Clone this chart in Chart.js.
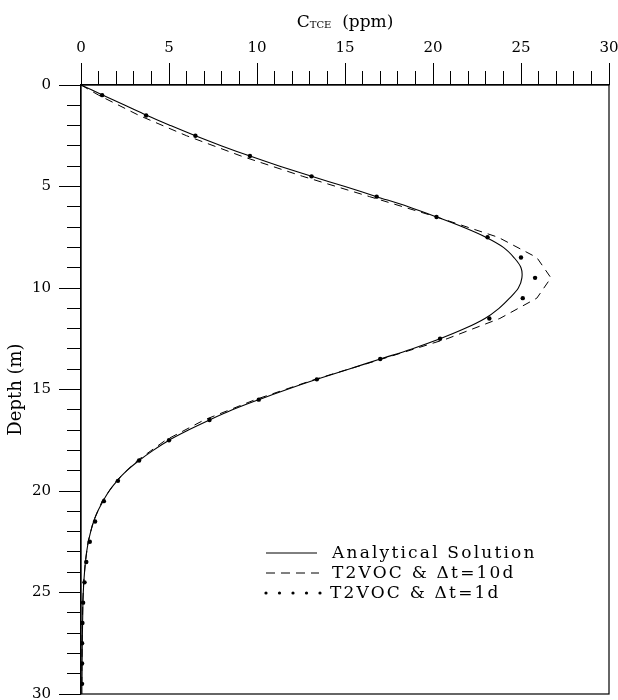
<!DOCTYPE html>
<html><head><meta charset="utf-8">
<script src="https://cdn.jsdelivr.net/npm/chart.js@4.4.1/dist/chart.umd.min.js"></script>
<style>html,body{margin:0;padding:0;background:#fff}#wrap{width:618px;height:700px;position:relative}</style>
</head><body><div id="wrap"><canvas id="c"></canvas></div>
<script>
// ---- data ----
const xTickLabels = [0, 5, 10, 15, 20, 25, 30];
const yTickLabels = [0, 5, 10, 15, 20, 25, 30];
const seriesNames = ['Analytical Solution', 'T2VOC & \u0394t=10d', 'T2VOC & \u0394t=1d'];

const analyticDepth = [0,0.5,1,1.5,2,2.5,3,3.5,4,4.5,5,5.5,6,6.5,7,7.5,8,8.5,9,9.5,10,10.5,11,11.5,12,12.5,13,13.5,14,14.5,15,15.5,16,16.5,17,17.5,18,18.5,19,19.5,20,20.5,21,21.5,22,22.5,23,23.5,24,24.5,25,25.5,26,26.5,27,27.5,28,28.5,29,29.5,30];
const analyticC = [0,1.25,2.5,3.75,5.1,6.5,8.0,9.6,11.3,13.1,15.0,16.8,18.6,20.2,21.7,23.0,24.0,24.6,25.0,25.05,24.85,24.35,23.75,22.95,21.8,20.4,18.8,17.0,15.2,13.4,11.7,10.1,8.6,7.3,6.1,5.0,4.1,3.3,2.6,2.05,1.6,1.25,0.95,0.72,0.55,0.42,0.32,0.25,0.2,0.16,0.13,0.11,0.1,0.09,0.08,0.07,0.07,0.06,0.06,0.05,0.05];

const dt10Depth = [0,0.5,1.5,2.5,3.5,4.5,5.5,6.5,7.5,8.5,9.5,10.5,11.5,12.5,13.5,14.5,15.5,16.5,17.5,18.5,19.5,20.5,21.5,22.5,23.5,24.5,25.5,26.5,27.5,28.5,29.5];
const dt10C = [0,1.0,3.3,6.0,9.1,12.6,16.4,20.2,23.7,25.9,26.7,25.9,23.8,20.8,17.1,13.3,9.9,7.0,4.8,3.2,2.0,1.2,0.7,0.4,0.25,0.15,0.1,0.08,0.06,0.05,0.05];

const dt1Depth = [0.5,1.5,2.5,3.5,4.5,5.5,6.5,7.5,8.5,9.5,10.5,11.5,12.5,13.5,14.5,15.5,16.5,17.5,18.5,19.5,20.5,21.5,22.5,23.5,24.5,25.5,26.5,27.5,28.5,29.5];
const dt1C = [1.2,3.7,6.5,9.6,13.1,16.8,20.2,23.1,25.0,25.8,25.1,23.2,20.4,17.0,13.4,10.1,7.3,5.0,3.3,2.1,1.3,0.8,0.5,0.3,0.2,0.12,0.08,0.06,0.06,0.06];

// ---- helpers ----
const pts = (xs, ys) => xs.map((x, i) => ({x: x, y: ys[i]}));
const FONT = "'DejaVu Serif', 'Liberation Serif', serif";
const minorDash = (len) => (ctx) => (ctx.tick && yTickLabels.indexOf(ctx.tick.value) < 0) ? [0, 22 - len, len, 60] : [];

const boxPlugin = {
  id: 'box',
  afterDraw(chart) {
    const {ctx, chartArea: a} = chart;
    ctx.save();
    ctx.strokeStyle = '#000';
    ctx.lineWidth = 1.2;
    ctx.strokeRect(a.left, a.top, a.right - a.left, a.bottom - a.top);
    ctx.restore();
  }
};

const titlePlugin = {
  id: 'xtitle',
  afterDraw(chart) {
    const {ctx, chartArea: a} = chart;
    ctx.save();
    ctx.fillStyle = '#000';
    ctx.textBaseline = 'alphabetic';
    const f1 = '17px ' + FONT, f2 = '10px ' + FONT;
    ctx.font = f1; const w1 = ctx.measureText('C').width;
    ctx.font = f2; const w2 = ctx.measureText('TCE').width;
    ctx.font = f1; const w3 = ctx.measureText('  (ppm)').width;
    const total = w1 + w2 + w3;
    let x = (a.left + a.right) / 2 - total / 2;
    const base = 27;
    ctx.font = f1; ctx.fillText('C', x, base); x += w1;
    ctx.font = f2; ctx.fillText('TCE', x, base + 1); x += w2;
    ctx.font = f1; ctx.fillText('  (ppm)', x, base);
    ctx.restore();
  }
};

const legendPlugin = {
  id: 'customLegend',
  afterDraw(chart) {
    const {ctx, chartArea: a} = chart;
    const x0 = a.left + 185, x1 = a.left + 236, tx = a.left + 251;
    const rows = [a.top + 468, a.top + 488, a.top + 508];
    ctx.save();
    ctx.fillStyle = '#000';
    ctx.strokeStyle = '#000';
    ctx.font = '17px ' + FONT;
    ctx.textBaseline = 'middle';
    try { ctx.letterSpacing = '2.2px'; } catch (e) {}
    // solid
    ctx.lineWidth = 1; ctx.setLineDash([]);
    ctx.beginPath(); ctx.moveTo(x0, rows[0]); ctx.lineTo(x1, rows[0]); ctx.stroke();
    // dashed
    ctx.setLineDash([9, 6]);
    ctx.beginPath(); ctx.moveTo(x0, rows[1]); ctx.lineTo(x1 + 2, rows[1]); ctx.stroke();
    ctx.setLineDash([]);
    // dots
    for (let i = 0; i < 5; i++) {
      ctx.beginPath(); ctx.arc(x0 + i * 13.5, rows[2], 1.6, 0, Math.PI * 2); ctx.fill();
    }
    ctx.fillText(seriesNames[0], tx, rows[0] + 1);
    ctx.fillText(seriesNames[1], tx, rows[1] + 1);
    ctx.fillText(seriesNames[2], tx - 2, rows[2] + 1);
    ctx.restore();
  }
};

new Chart(document.getElementById('c'), {
  type: 'scatter',
  data: {
    datasets: [
      {label: seriesNames[0], data: pts(analyticC, analyticDepth), showLine: true, borderColor: '#000', borderWidth: 1.1, pointRadius: 0, tension: 0.35, fill: false},
      {label: seriesNames[1], data: pts(dt10C, dt10Depth), showLine: true, borderColor: '#000', borderWidth: 1, borderDash: [8, 6], pointRadius: 0, tension: 0, fill: false},
      {label: seriesNames[2], data: pts(dt1C, dt1Depth), showLine: false, backgroundColor: '#000', borderColor: '#000', pointRadius: 2.2, pointBorderWidth: 0}
    ]
  },
  options: {
    responsive: true,
    maintainAspectRatio: false,
    animation: false,
    layout: {padding: {left: 0, right: 9, top: 0, bottom: 6}},
    plugins: {legend: {display: false}, tooltip: {enabled: false}},
    scales: {
      x: {
        type: 'linear', position: 'top', min: 0, max: 30,
        afterFit(s) { s.height = 85; s.paddingLeft = 0; s.paddingRight = 0; },
        afterBuildTicks(s) { s.ticks = Array.from({length: 31}, (_, i) => ({value: i})); },
        border: {display: true, color: '#000', width: 1.2},
        grid: {drawOnChartArea: false, drawTicks: true, tickLength: 22, tickColor: '#000', tickWidth: 1, tickBorderDash: minorDash(14)},
        ticks: {autoSkip: false, maxRotation: 0, minRotation: 0, padding: 6, color: '#000', font: {family: FONT, size: 15},
          callback: (v) => xTickLabels.indexOf(v) >= 0 ? String(v) : ''}
      },
      y: {
        type: 'linear', position: 'left', min: 0, max: 30, reverse: true,
        afterFit(s) { s.width = 81; s.paddingTop = 0; s.paddingBottom = 0; },
        afterBuildTicks(s) { s.ticks = Array.from({length: 31}, (_, i) => ({value: i})); },
        border: {display: true, color: '#000', width: 1.2},
        grid: {drawOnChartArea: false, drawTicks: true, tickLength: 22, tickColor: '#000', tickWidth: 1, tickBorderDash: minorDash(14)},
        ticks: {autoSkip: false, padding: 8, color: '#000', font: {family: FONT, size: 15},
          callback: (v) => yTickLabels.indexOf(v) >= 0 ? String(v) : ''},
        title: {display: true, text: 'Depth (m)', color: '#000', font: {family: FONT, size: 18}, padding: {top: 6, bottom: 0}}
      }
    }
  },
  plugins: [boxPlugin, titlePlugin, legendPlugin]
});
</script>
</body></html>
